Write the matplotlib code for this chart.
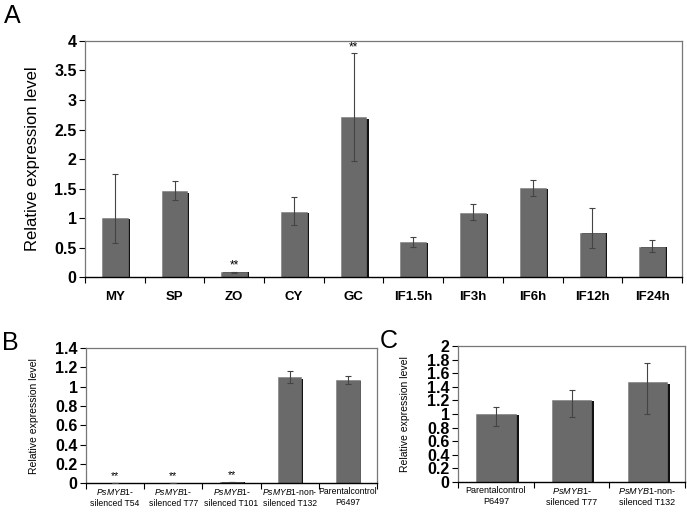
import matplotlib
matplotlib.use("Agg")
import matplotlib.pyplot as plt
import numpy as np

plt.rcParams['font.family'] = ['Liberation Sans', 'DejaVu Sans']
plt.rcParams['mathtext.fontset'] = 'custom'
plt.rcParams['mathtext.it'] = 'Liberation Sans:italic'
plt.rcParams['mathtext.rm'] = 'Liberation Sans'

# panel A data
a_cats = ["MY", "SP", "ZO", "CY", "GC", "IF1.5h", "IF3h", "IF6h", "IF12h", "IF24h"]
a_vals = [1.0, 1.45, 0.08, 1.1, 2.72, 0.59, 1.09, 1.51, 0.75, 0.51]
a_err_lo = [0.42, 0.15, 0.01, 0.22, 0.76, 0.08, 0.13, 0.13, 0.26, 0.09]
a_err_hi = [0.75, 0.17, 0.01, 0.26, 1.07, 0.08, 0.15, 0.13, 0.42, 0.11]
a_stars = ["", "", "**", "", "**", "", "", "", "", ""]

# panel B data
b_cats = ["$\\it{PsMYB1}$-\nsilenced T54", "$\\it{PsMYB1}$-\nsilenced T77",
          "$\\it{PsMYB1}$-\nsilenced T101", "$\\it{PsMYB1}$-non-\nsilenced T132",
          "Parentalcontrol\nP6497"]
b_vals = [0.0, 0.0, 0.01, 1.10, 1.07]
b_err = [0.0, 0.0, 0.0, 0.06, 0.04]
b_stars = ["**", "**", "**", "", ""]

# panel C data
c_cats = ["Parentalcontrol\nP6497", "$\\it{PsMYB1}$-\nsilenced T77",
          "$\\it{PsMYB1}$-non-\nsilenced T132"]
c_vals = [1.0, 1.21, 1.47]
c_err_lo = [0.18, 0.25, 0.47]
c_err_hi = [0.10, 0.14, 0.28]


def panel(ax, cats, vals, err, width, ymax, ystep, tick_fs, xtick_fs, xbold, ylab_fs, xpad):
    x = np.arange(len(cats))
    # dark shadow on right side
    ax.bar(x + width * 0.08, np.array(vals) * 0.985, width=width, color="#111111", zorder=1)
    ax.bar(x, vals, width=width, color="#6a6a6a", edgecolor="#7a7a7a", linewidth=0.4, zorder=2)
    ax.errorbar(x, vals, yerr=err, fmt="none", ecolor="#444444", elinewidth=0.8,
                capsize=2, capthick=0.8, zorder=3)
    ax.set_xlim(-0.5, len(cats) - 0.5)
    ax.set_ylim(0, ymax)
    ax.set_yticks(np.arange(0, ymax + ystep / 2, ystep))
    ax.yaxis.set_major_formatter(matplotlib.ticker.FormatStrFormatter("%g"))
    ax.set_xticks(np.arange(-0.5, len(cats), 1.0))
    ax.set_xticklabels([])
    ax.set_xticks(x, minor=True)
    ax.set_xticklabels(cats, minor=True, fontsize=xtick_fs,
                       fontweight="bold" if xbold else "normal")
    ax.tick_params(axis="x", which="minor", length=0, pad=xpad)
    ax.tick_params(axis="x", which="major", length=4, direction="out", width=0.8)
    ax.tick_params(axis="y", length=4, direction="out", width=0.8, pad=2)
    for t in ax.get_yticklabels():
        t.set_fontweight("bold")
        t.set_fontsize(tick_fs)
    for s in ["top", "right", "left"]:
        ax.spines[s].set_color("#777777")
        ax.spines[s].set_linewidth(0.9)
    ax.spines["bottom"].set_color("black")
    ax.spines["bottom"].set_linewidth(1.0)
    ax.set_ylabel("Relative expression level", fontsize=ylab_fs)
    return x


fig = plt.figure(figsize=(6.87, 5.15), dpi=100)

axA = fig.add_axes([0.1237, 0.4621, 0.869, 0.4583])
xa = panel(axA, a_cats, a_vals, [a_err_lo, a_err_hi], 0.43, 4, 0.5, 11.5, 9.5, True, 12, 10)
for xi, v, h, s in zip(xa, a_vals, a_err_hi, a_stars):
    if s:
        axA.text(xi, v + h + 0.0, s, ha="center", va="bottom", fontsize=8.5)
axA.yaxis.set_label_coords(-0.075, 0.5)

axB = fig.add_axes([0.1252, 0.0616, 0.4236, 0.2627])
xb = panel(axB, b_cats, b_vals, b_err, 0.4, 1.4, 0.2, 11.5, 6.2, False, 7.5, 3)
for xi, v, s in zip(xb, b_vals, b_stars):
    if s:
        axB.text(xi, v + 0.02, s, ha="center", va="bottom", fontsize=7.5)
axB.yaxis.set_label_coords(-0.16, 0.5)

axC = fig.add_axes([0.6667, 0.0641, 0.3304, 0.2641])
xc = panel(axC, c_cats, c_vals, [c_err_lo, c_err_hi], 0.52, 2, 0.2, 11.5, 6.5, False, 7.5, 3)
axC.yaxis.set_label_coords(-0.21, 0.5)

fig.text(0.006, 0.955, "A", fontsize=18)
fig.text(0.003, 0.321, "B", fontsize=18)
fig.text(0.553, 0.325, "C", fontsize=18)

fig.savefig("out.png", dpi=100)
